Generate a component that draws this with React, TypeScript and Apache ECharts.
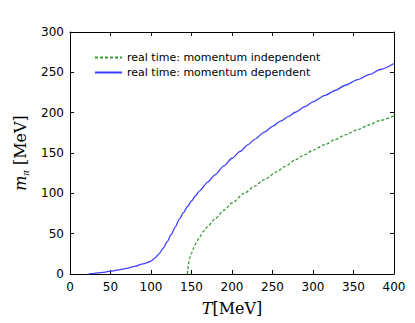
import React, { useEffect, useRef } from "react";
import * as echarts from "echarts";

const tIndependent = [145, 145.3, 146, 147, 148, 150, 153, 156, 160, 165, 170, 179, 190, 200, 215, 228, 240, 255, 265, 278, 290, 300, 315, 327, 340, 355, 370, 383, 400];
const mIndependent = [0, 4, 10, 16, 20, 26, 33, 39, 46, 53, 59, 68.5, 79, 88, 100, 109, 117, 126.5, 133, 141.5, 148, 153.5, 160.5, 166.5, 172.5, 179, 185, 190.5, 196];

const tDependent = [23, 30, 40, 50, 60, 70, 80, 90, 95, 100, 105, 110, 115, 120, 125, 130, 135, 140, 145, 150, 155, 160, 170, 179, 190, 200, 210, 220, 228, 240, 250, 260, 270, 278, 290, 300, 315, 327, 340, 355, 370, 383, 400];
const mDependent = [0, 0.8, 2, 3.5, 5, 7, 9.5, 12.5, 14, 16, 20, 25, 32, 40, 49, 58.5, 68, 76, 83.5, 90.5, 97, 103, 114, 123, 134, 143.5, 152, 160.5, 167, 176, 183, 189.5, 195.5, 200.5, 207.5, 213.5, 221.5, 227.5, 234, 241, 247.5, 253.5, 261];

const seriesNames = ["real time: momentum independent", "real time: momentum dependent"];
const xTicks = { min: 0, max: 400, interval: 50 };
const yTicks = { min: 0, max: 300, interval: 50 };

export default function App() {
  const ref = useRef<HTMLDivElement>(null);
  useEffect(() => {
    if (!ref.current) return;
    const chart = echarts.init(ref.current, undefined, { renderer: "svg" });
    const tickStyle = { inside: true, length: 4, lineStyle: { color: "#000", width: 1 } };
    const axisLine = { show: true, onZero: false, lineStyle: { color: "#000", width: 1 } };
    const labelStyle = { color: "#000", fontSize: 12, fontFamily: "DejaVu Sans" };
    chart.setOption({
      animation: false,
      backgroundColor: "#fff",
      grid: { left: 70, right: 21, top: 32, bottom: 49, outerBoundsMode: "none" },
      legend: {
        orient: "vertical",
        left: 89,
        top: 47,
        itemWidth: 27,
        itemHeight: 11,
        itemGap: 4,
        itemStyle: { opacity: 0 },
        textStyle: { color: "#000", fontSize: 11, fontFamily: "DejaVu Sans" },
        data: seriesNames,
      },
      xAxis: [
        {
          type: "value",
          ...xTicks,
          position: "bottom",
          axisLine,
          axisTick: tickStyle,
          splitLine: { show: false },
          axisLabel: { ...labelStyle, margin: 7 },
          name: "{i|T}{r|[MeV]}",
          nameLocation: "middle",
          nameGap: 26,
          nameTextStyle: {
            rich: {
              i: { fontFamily: "DejaVu Serif", fontStyle: "italic", fontSize: 16, color: "#000" },
              r: { fontFamily: "DejaVu Serif", fontSize: 16, color: "#000" },
            },
          },
        },
        {
          type: "value",
          ...xTicks,
          position: "top",
          axisLine,
          axisTick: tickStyle,
          splitLine: { show: false },
          axisLabel: { show: false },
        },
      ],
      yAxis: [
        {
          type: "value",
          ...yTicks,
          position: "left",
          axisLine,
          axisTick: tickStyle,
          splitLine: { show: false },
          axisLabel: { ...labelStyle, margin: 6 },
          name: "{i|m}{s|π}{r| [MeV]}",
          nameLocation: "middle",
          nameGap: 40,
          nameRotate: 90,
          nameTextStyle: {
            rich: {
              i: { fontFamily: "DejaVu Serif", fontStyle: "italic", fontSize: 16, color: "#000" },
              s: { fontFamily: "Liberation Serif", fontStyle: "italic", fontSize: 11, color: "#000", padding: [8, 0, 0, 0] },
              r: { fontFamily: "DejaVu Serif", fontSize: 16, color: "#000" },
            },
          },
        },
        {
          type: "value",
          ...yTicks,
          position: "right",
          axisLine,
          axisTick: tickStyle,
          splitLine: { show: false },
          axisLabel: { show: false },
        },
      ],
      series: [
        {
          name: seriesNames[0],
          type: "line",
          xAxisIndex: 0,
          yAxisIndex: 0,
          symbol: "none",
          smooth: 0.25,
          smoothMonotone: "x",
          data: tIndependent.map((t, i) => [t, mIndependent[i]]),
          lineStyle: { color: "#3a9a3a", width: 1.3, type: [3, 2] },
          itemStyle: { color: "#3a9a3a" },
        },
        {
          name: seriesNames[1],
          type: "line",
          xAxisIndex: 0,
          yAxisIndex: 0,
          symbol: "none",
          smooth: 0.25,
          smoothMonotone: "x",
          data: tDependent.map((t, i) => [t, mDependent[i]]),
          lineStyle: { color: "#3f3fff", width: 1.3 },
          itemStyle: { color: "#3f3fff" },
        },
      ],
    });
    return () => chart.dispose();
  }, []);
  return (
    <div
      ref={ref}
      style={{ position: "fixed", left: 0, top: 0, width: 415, height: 323, background: "#fff" }}
    />
  );
}
